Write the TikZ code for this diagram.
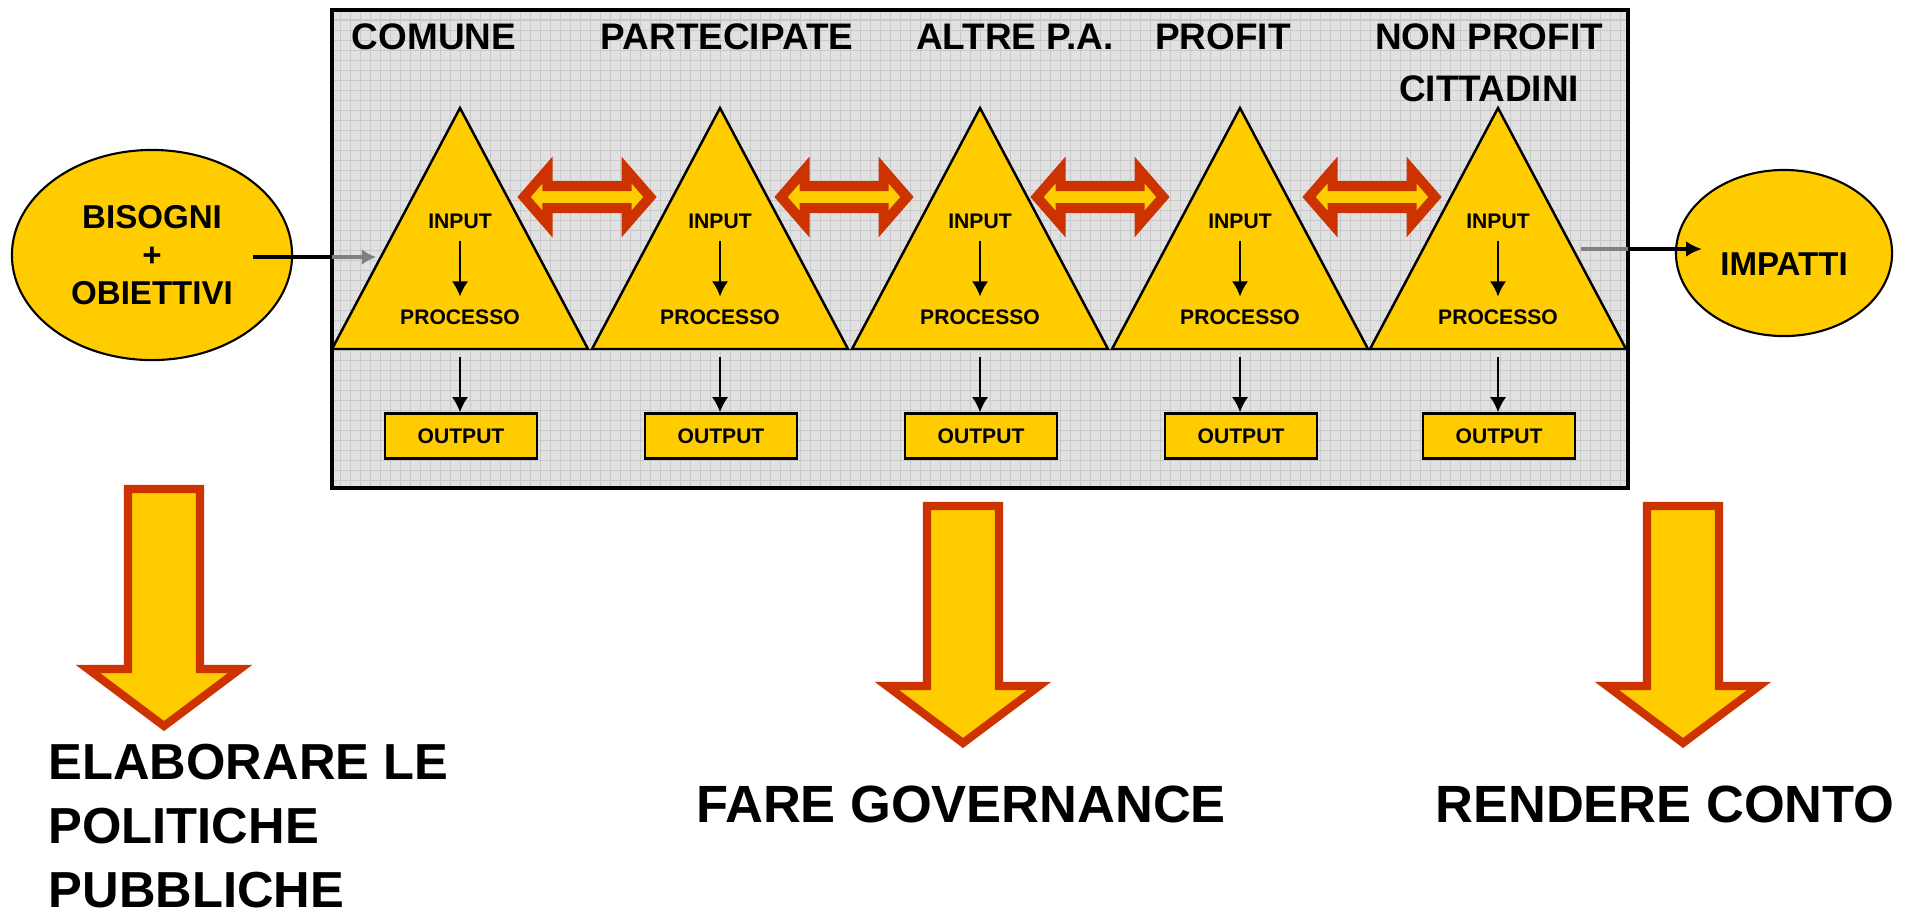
\documentclass[tikz,border=0pt]{standalone}
\usepackage{fontspec}
\setmainfont{Liberation Sans}
\usetikzlibrary{arrows.meta,calc,shapes.geometric}
\definecolor{giallo}{HTML}{FFCC00}
\definecolor{rosso}{HTML}{CC3300}
\definecolor{fondo}{HTML}{E1E1E1}
\definecolor{griglia}{HTML}{C9C9C9}
\tikzstyle{tri} = [draw=black,fill=giallo,line width=0.7pt]
\tikzstyle{fase} = [inner sep=3.5pt,font=\fontsize{6}{7}\selectfont\bfseries]
\tikzstyle{outbox} = [rectangle,draw=black,fill=giallo,line width=0.7pt,minimum width=1.52cm,minimum height=0.45cm,inner sep=0pt,font=\fontsize{6}{7}\selectfont\bfseries]
\tikzstyle{attore} = [inner sep=0pt,align=center,font=\fontsize{10.5}{14.8}\selectfont\bfseries]
\tikzstyle{ovale} = [ellipse,draw=black,fill=giallo,line width=0.6pt,inner sep=0pt,align=center,font=\fontsize{9.4}{10.8}\selectfont\bfseries]
\tikzstyle{freccia} = [-{Latex[length=4.3pt,width=4.6pt]},line width=0.6pt]
\tikzstyle{flusso} = [line width=1.15pt]
\tikzstyle{scambio} = [draw=rosso,fill=giallo,line width=2.85pt]
\tikzstyle{giu} = [draw=rosso,fill=giallo,line width=2.3pt]
\tikzstyle{esito} = [inner sep=0pt,align=left,font=\fontsize{14.9}{18.2}\selectfont\bfseries]

\begin{document}
\begin{tikzpicture}[x=0.01cm,y=-0.01cm]
  \useasboundingbox (0,0) rectangle (1907,914);
  % riquadro a griglia
  \fill[fondo] (332,10) rectangle (1628,488);
  \draw[griglia,line width=0.3pt,step=1mm] (332,488) grid (1628,10);
  \draw[line width=0.9pt] (332,10) rectangle (1628,488);
  % soggetti
  \node[attore](hc) at (434,37) {COMUNE};
  \node[attore](hp) at (727,37) {PARTECIPATE};
  \node[attore](ha) at (1015,37) {ALTRE P.A.};
  \node[attore](hf) at (1223,37) {PROFIT};
  \node[attore](hn) at (1489,63) {NON PROFIT\\CITTADINI};
  % triangoli
  \coordinate (t1) at (460,108);
  \coordinate (t2) at (720,108);
  \coordinate (t3) at (980,108);
  \coordinate (t4) at (1240,108);
  \coordinate (t5) at (1498,108);
  \draw[tri] (t1) -- ++(-128,241) -- ++(256,0) -- cycle;
  \draw[tri] (t2) -- ++(-128,241) -- ++(256,0) -- cycle;
  \draw[tri] (t3) -- ++(-128,241) -- ++(256,0) -- cycle;
  \draw[tri] (t4) -- ++(-128,241) -- ++(256,0) -- cycle;
  \draw[tri] (t5) -- ++(-128,241) -- ++(256,0) -- cycle;
  \node[fase](in1) at ($(t1)+(0,113)$) {INPUT};
  \node[fase](pr1) at ($(t1)+(0,209)$) {PROCESSO};
  \node[outbox](ou1) at ($(t1)+(1,328)$) {OUTPUT};
  \node[fase](in2) at ($(t2)+(0,113)$) {INPUT};
  \node[fase](pr2) at ($(t2)+(0,209)$) {PROCESSO};
  \node[outbox](ou2) at ($(t2)+(1,328)$) {OUTPUT};
  \node[fase](in3) at ($(t3)+(0,113)$) {INPUT};
  \node[fase](pr3) at ($(t3)+(0,209)$) {PROCESSO};
  \node[outbox](ou3) at ($(t3)+(1,328)$) {OUTPUT};
  \node[fase](in4) at ($(t4)+(0,113)$) {INPUT};
  \node[fase](pr4) at ($(t4)+(0,209)$) {PROCESSO};
  \node[outbox](ou4) at ($(t4)+(1,328)$) {OUTPUT};
  \node[fase](in5) at ($(t5)+(0,113)$) {INPUT};
  \node[fase](pr5) at ($(t5)+(0,209)$) {PROCESSO};
  \node[outbox](ou5) at ($(t5)+(1,328)$) {OUTPUT};
  \draw[freccia] (in1) -- (pr1);
  \draw[freccia] (in2) -- (pr2);
  \draw[freccia] (in3) -- (pr3);
  \draw[freccia] (in4) -- (pr4);
  \draw[freccia] (in5) -- (pr5);
  \draw[freccia] ($(pr1.south)+(0,20)$) -- (pr1.south |- ou1.north);
  \draw[freccia] ($(pr2.south)+(0,20)$) -- (pr2.south |- ou2.north);
  \draw[freccia] ($(pr3.south)+(0,20)$) -- (pr3.south |- ou3.north);
  \draw[freccia] ($(pr4.south)+(0,20)$) -- (pr4.south |- ou4.north);
  \draw[freccia] ($(pr5.south)+(0,20)$) -- (pr5.south |- ou5.north);
  % frecce di scambio
  \coordinate (s1) at (587,197);
  \coordinate (s2) at (844,197);
  \coordinate (s3) at (1100,197);
  \coordinate (s4) at (1372,197);
  \draw[scambio] (s1) +(-63,0) -- +(-39.5,-27) -- +(-39.5,-11) -- +(39.5,-11) -- +(39.5,-27) -- +(63,0) -- +(39.5,27) -- +(39.5,11) -- +(-39.5,11) -- +(-39.5,27) -- cycle;
  \draw[scambio] (s2) +(-63,0) -- +(-39.5,-27) -- +(-39.5,-11) -- +(39.5,-11) -- +(39.5,-27) -- +(63,0) -- +(39.5,27) -- +(39.5,11) -- +(-39.5,11) -- +(-39.5,27) -- cycle;
  \draw[scambio] (s3) +(-63,0) -- +(-39.5,-27) -- +(-39.5,-11) -- +(39.5,-11) -- +(39.5,-27) -- +(63,0) -- +(39.5,27) -- +(39.5,11) -- +(-39.5,11) -- +(-39.5,27) -- cycle;
  \draw[scambio] (s4) +(-63,0) -- +(-39.5,-27) -- +(-39.5,-11) -- +(39.5,-11) -- +(39.5,-27) -- +(63,0) -- +(39.5,27) -- +(39.5,11) -- +(-39.5,11) -- +(-39.5,27) -- cycle;
  % ingresso e uscita
  \node[ovale,minimum width=2.8cm,minimum height=2.1cm](bis) at (152,255) {BISOGNI\\+\\OBIETTIVI};
  \node[ovale,minimum width=2.16cm,minimum height=1.66cm,text height=12.9pt,text depth=0pt](imp) at (1784,253) {IMPATTI};
  \coordinate (bordoS) at (332,257);
  \coordinate (puntaS) at (376,257);
  \coordinate (codaD) at (1581,249);
  \coordinate (bordoD) at (1628,249);
  \draw[flusso] ($(bis.east)+(-40,2)$) -- (bordoS);
  \draw[flusso,gray,-{Latex[length=4pt,width=4.5pt]}] (bordoS) -- (puntaS);
  \draw[flusso,gray] (codaD) -- (bordoD);
  \draw[flusso,-{Latex[length=4.5pt,width=4.5pt]}] (bordoD) -- ($(imp.west)+(27,-4)$);
  % frecce verso il basso
  \coordinate (g1) at (164,489);
  \coordinate (g2) at (963,506);
  \coordinate (g3) at (1683,506);
  \draw[giu] (g1) +(-36,0) -- +(36,0) -- +(36,180) -- +(76,180) -- +(0,237) -- +(-76,180) -- +(-36,180) -- cycle;
  \draw[giu] (g2) +(-36,0) -- +(36,0) -- +(36,180) -- +(76,180) -- +(0,237) -- +(-76,180) -- +(-36,180) -- cycle;
  \draw[giu] (g3) +(-36,0) -- +(36,0) -- +(36,180) -- +(76,180) -- +(0,237) -- +(-76,180) -- +(-36,180) -- cycle;
  % esiti
  \node[esito,anchor=west,font=\fontsize{14.4}{18.2}\selectfont\bfseries](pol) at (48,826) {ELABORARE LE\\POLITICHE\\PUBBLICHE};
  \node[esito](gov) at (961,804) {FARE GOVERNANCE};
  \node[esito](con) at (1665,804) {RENDERE CONTO};
\end{tikzpicture}
\end{document}
